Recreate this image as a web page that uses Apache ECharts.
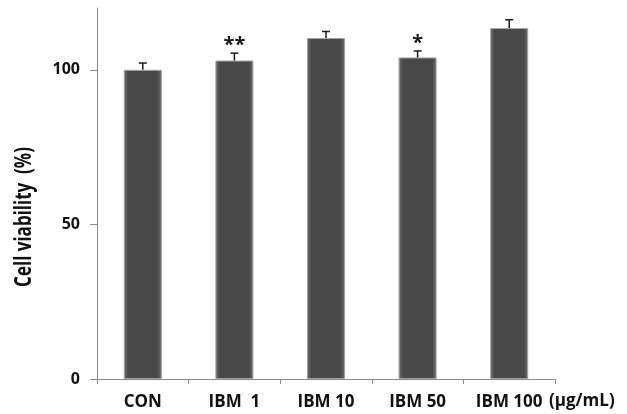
<!DOCTYPE html>
<html>
<head>
<meta charset="utf-8">
<script src="https://cdn.jsdelivr.net/npm/echarts@6/dist/echarts.min.js"></script>
<style>
  html, body { margin: 0; padding: 0; background: #fff; }
  #chart { width: 627px; height: 414px; }
</style>
</head>
<body>
<div id="chart"></div>
<script>
// Cell viability after IBM treatment (mean + SD)
const categories = ['CON', 'IBM  1', 'IBM 10', 'IBM 50', 'IBM 100'];
const viability = [100, 103, 110.3, 104, 113.5];
const errors = [2.2, 2.4, 2.1, 2.1, 2.7];
const significance = ['', '**', '', '*', ''];
const yTicks = [0, 50, 100];
const unitText = '(\u03bcg/mL)';
const yTitle = 'Cell viability  (%)';

const FONT = '"Open Sans", "Noto Sans", sans-serif';

const chart = echarts.init(document.getElementById('chart'), null, { renderer: 'canvas' });

// dark bars with slightly lighter bevelled edges
const barColor = {
  type: 'linear', x: 0, y: 0, x2: 1, y2: 0,
  colorStops: [
    { offset: 0, color: '#6e6e6e' },
    { offset: 0.12, color: '#484848' },
    { offset: 0.88, color: '#484848' },
    { offset: 1, color: '#6e6e6e' }
  ]
};

chart.setOption({
  animation: false,
  backgroundColor: '#ffffff',
  grid: { left: 97, right: 72, top: 8, bottom: 35, containLabel: false },
  xAxis: {
    type: 'category',
    data: categories,
    boundaryGap: true,
    axisLine: { lineStyle: { color: '#8c8c8c', width: 1 } },
    axisTick: { show: true, length: 5, lineStyle: { color: '#8c8c8c' } },
    axisLabel: {
      margin: 15,
      color: '#111',
      fontFamily: FONT,
      fontWeight: 'bold',
      fontSize: 17,
      interval: 0
    },
    splitLine: { show: false }
  },
  yAxis: {
    type: 'value',
    min: 0,
    max: 120,
    interval: 50,
    axisLine: { show: true, lineStyle: { color: '#8c8c8c', width: 1 } },
    axisTick: { show: true, length: 7, customValues: yTicks, lineStyle: { color: '#8c8c8c' } },
    axisLabel: {
      customValues: yTicks,
      margin: 17,
      color: '#111',
      fontFamily: FONT,
      fontWeight: 'bold',
      fontSize: 16
    },
    splitLine: { show: false }
  },
  graphic: [
    {
      type: 'text',
      x: 24,
      y: 217,
      rotation: Math.PI / 2,
      scaleY: 1.35,
      style: {
        text: yTitle,
        fill: '#111',
        font: 'bold 17px ' + FONT,
        align: 'center',
        verticalAlign: 'middle'
      }
    },
    {
      type: 'text',
      left: 549,
      top: 393,
      style: {
        text: unitText,
        fill: '#111',
        font: 'bold 17px ' + FONT
      }
    }
  ],
  series: [
    {
      type: 'bar',
      data: viability,
      barWidth: 38,
      itemStyle: {
        color: barColor,
        borderColor: '#a0a0a0',
        borderWidth: 1
      },
      z: 2
    },
    {
      type: 'custom',
      z: 3,
      data: viability.map((v, i) => [i, v, v + errors[i]]),
      renderItem: function (params, api) {
        const i = params.dataIndex;
        const base = api.coord([api.value(0), api.value(1)]);
        const top = api.coord([api.value(0), api.value(2)]);
        const half = 4;
        const stroke = { stroke: '#1a1a1a', lineWidth: 1.5 };
        const children = [
          { type: 'line', shape: { x1: base[0], y1: base[1], x2: top[0], y2: top[1] }, style: stroke },
          { type: 'line', shape: { x1: top[0] - half, y1: top[1], x2: top[0] + half, y2: top[1] }, style: stroke }
        ];
        if (significance[i]) {
          children.push({
            type: 'text',
            x: top[0],
            y: top[1] + 2,
            style: {
              text: significance[i],
              fill: '#1a1a1a',
              font: 'bold 20px ' + FONT,
              align: 'center',
              verticalAlign: 'bottom'
            }
          });
        }
        return { type: 'group', children: children };
      }
    }
  ]
});
</script>
</body>
</html>
